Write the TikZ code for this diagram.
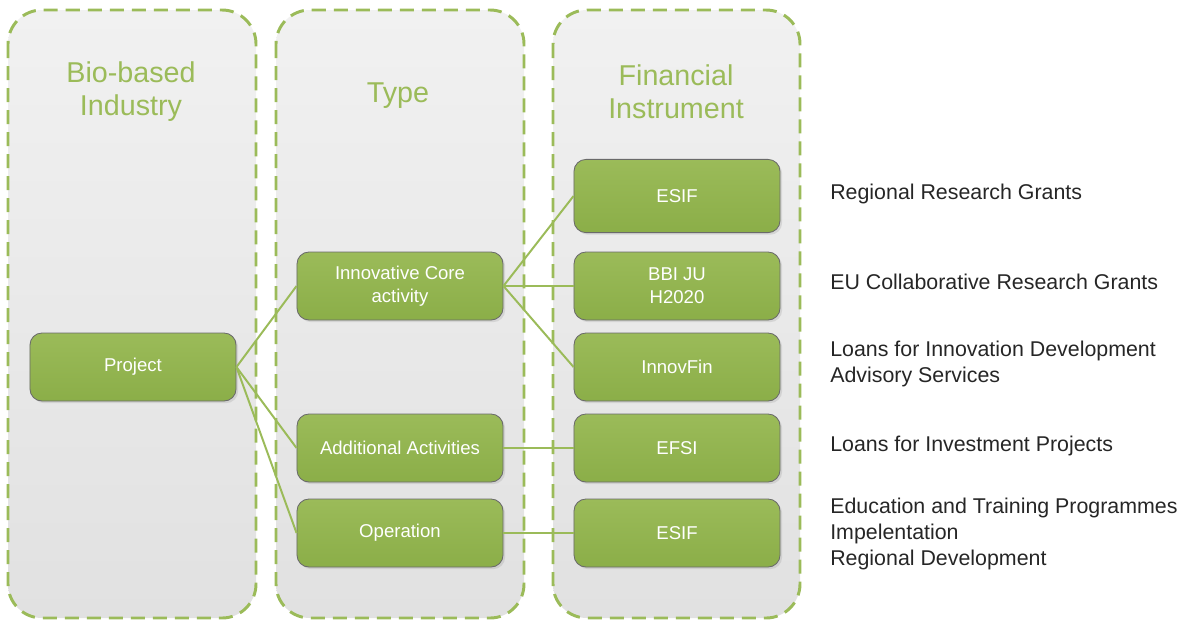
\documentclass[tikz,border=0pt]{standalone}
\usepackage{fontspec}
\setmainfont{Liberation Sans}
\usepackage{xcolor}
\usetikzlibrary{positioning,shadings,shadows}
\definecolor{leaf}{HTML}{9BBB59}
\definecolor{leafdark}{HTML}{8BAE48}
\definecolor{lane}{HTML}{F1F1F1}
\definecolor{lanelow}{HTML}{E1E1E1}
\definecolor{edge}{HTML}{6A6A6A}
\definecolor{ink}{HTML}{262626}
\tikzset{
  lanebox/.style={rounded corners=0.85cm, line width=2.1pt, draw=leaf,
                  dash pattern=on 0.35cm off 0.2cm, top color=lane, bottom color=lanelow},
  lanetitle/.style={text=leaf, align=center, font=\fontsize{20.4}{23.4}\selectfont},
  item/.style={rounded corners=0.3cm, draw=edge, line width=0.6pt,
               top color=leaf, bottom color=leafdark, text=white, align=center,
               minimum width=5.15cm, minimum height=1.7cm, inner sep=2pt,
               font=\fontsize{13.2}{16.3}\selectfont,
               drop shadow={opacity=0.2, shadow xshift=1.5pt, shadow yshift=-1.5pt}},
  link/.style={draw=leaf, line width=1.4pt},
  note/.style={anchor=west, align=left, text=ink, inner sep=0pt,
               font=\fontsize{15.2}{18.4}\selectfont}
}
\begin{document}
\begin{tikzpicture}[x=0.025cm,y=-0.025cm]
  \useasboundingbox (0,0) rectangle (1187,621);
  % lanes
  \draw[lanebox] (8,10) rectangle (256,618);
  \draw[lanebox] (276,10) rectangle (524,618);
  \draw[lanebox] (553,10) rectangle (800,618);
  \node[lanetitle] (tbio) at (131,92) {Bio-based\\Industry};
  \node[lanetitle] (ttype) at (398,96) {Type};
  \node[lanetitle] (tfin) at (676,92) {Financial\\Instrument};

  % boxes
  \node[item] (project) at (133,367) {Project};
  \node[item] (core) at (400,286) {Innovative Core\\activity};
  \node[item] (extra) at (400,448) {Additional Activities};
  \node[item] (oper) at (400,533) {Operation};
  \node[item, minimum height=1.83cm] (esifa) at (677,196) {ESIF};
  \node[item] (bbi) at (677,286) {BBI JU\\H2020};
  \node[item] (innov) at (677,367) {InnovFin};
  \node[item] (efsi) at (677,448) {EFSI};
  \node[item] (esifb) at (677,533) {ESIF};

  % links
  \draw[link] (project.east) -- (core.west);
  \draw[link] (project.east) -- (extra.west);
  \draw[link] (project.east) -- (oper.west);
  \draw[link] (core.east) -- (esifa.west);
  \draw[link] (core.east) -- (bbi.west);
  \draw[link] (core.east) -- (innov.west);
  \draw[link] (extra.east) -- (efsi.west);
  \draw[link] (oper.east) -- (esifb.west);

  % notes
  \node[note] (nesifa) at (830,194) {Regional Research Grants};
  \node[note] (nbbi) at (830,282) {EU Collaborative Research Grants};
  \node[note] (ninnov) at (830,364) {Loans for Innovation Development\\Advisory Services};
  \node[note] (nefsi) at (830,446) {Loans for Investment Projects};
  \node[note] (nesifb) at (830,534) {Education and Training Programmes\\Impelentation\\Regional Development};
\end{tikzpicture}
\end{document}
